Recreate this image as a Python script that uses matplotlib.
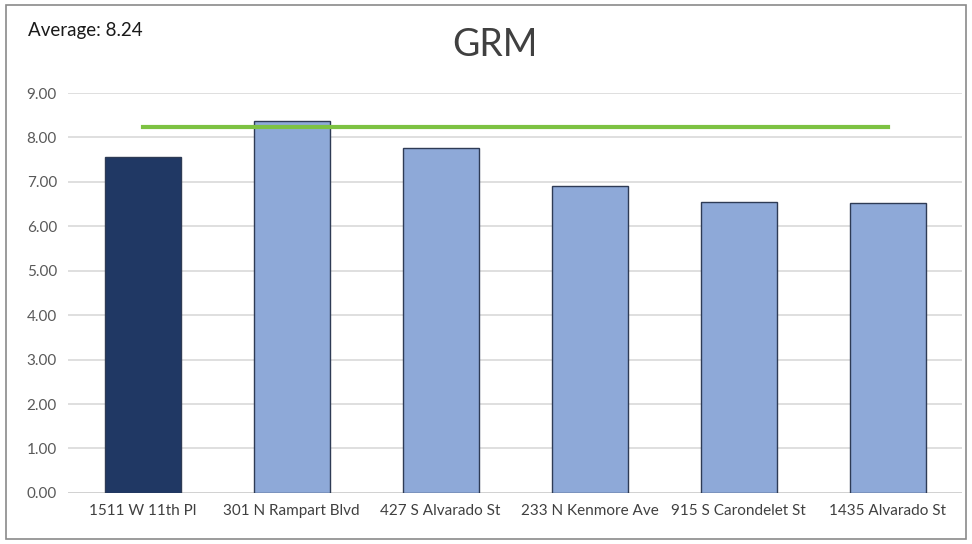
import numpy as np
import matplotlib.pyplot as plt
from matplotlib.patches import Rectangle

# ---------- data ----------
addresses = ["1511 W 11th Pl", "301 N Rampart Blvd", "427 S Alvarado St",
             "233 N Kenmore Ave", "915 S Carondelet St", "1435 Alvarado St"]
grm = [7.57, 8.36, 7.77, 6.91, 6.55, 6.53]
average = 8.24
yticks = [0, 1, 2, 3, 4, 5, 6, 7, 8, 9]

plt.rcParams['font.family'] = ['Lato', 'DejaVu Sans']

fig = plt.figure(figsize=(9.72, 5.44), dpi=100)
ax = fig.add_axes([0.070, 0.094, 0.920, 0.735])

x = np.arange(len(addresses))
colors = ['#203864'] + ['#8EA9D8'] * (len(addresses) - 1)
ax.bar(x, grm, width=0.51, color=colors, edgecolor='#2E3B55', linewidth=1.0, zorder=3)
ax.plot(x, [average] * len(x), color='#7DC242', linewidth=3, zorder=4)

ax.set_xlim(-0.5, len(addresses) - 0.5)
ax.set_ylim(0, 9)
ax.set_yticks(yticks)
ax.set_yticklabels([f"{v:.2f}" for v in yticks])
ax.set_xticks(x)
ax.set_xticklabels(addresses)
ax.tick_params(axis='both', length=0, labelsize=11, colors='#595959', pad=8)
ax.tick_params(axis='x', labelcolor='#404040')
ax.yaxis.grid(True, color='#D9D9D9', linewidth=1.2, zorder=0)
for s in ax.spines.values():
    s.set_visible(False)
ax.axhline(0, color='#D0D0D0', linewidth=1.2, zorder=2)

fig.text(0.509, 0.918, "GRM", ha='center', va='center', fontsize=27, color='#404040')
fig.text(0.029, 0.944, "Average: 8.24", ha='left', va='center', fontsize=13.5, color='#1A1A1A')

fig.patches.append(Rectangle((0.006, 0.01), 0.988, 0.98, transform=fig.transFigure,
                             fill=False, edgecolor='#8A8A8A', linewidth=1.2))

fig.savefig("out.png", dpi=100)
